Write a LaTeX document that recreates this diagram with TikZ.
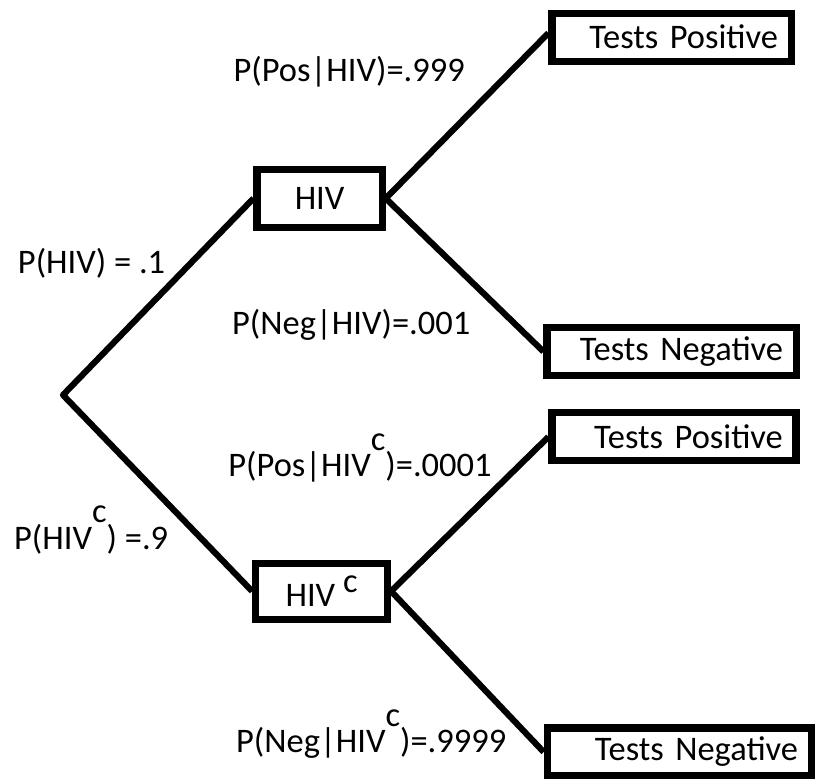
\documentclass[tikz,border=0pt]{standalone}
\usepackage{fontspec}
\setmainfont{Carlito}
\usepackage{tikz}
\usetikzlibrary{
positioning,
calc
}
\newcommand{\hivsup}{HIV\raisebox{1.6ex}{c}}

\begin{document}
\begin{tikzpicture}[
  font=\fontsize{24.5}{29}\selectfont,
  outcome/.style={draw, line width=5pt, inner xsep=0.33cm, minimum height=1.2cm, align=right},
  status/.style={draw, line width=5pt, minimum height=1.45cm},
  branch/.style={line width=4.4pt, line join=round},
  prob/.style={inner sep=0pt}
]
\useasboundingbox (0,0) rectangle (20.425,-19.475);

% Root of the tree
\coordinate (root) at (1.575,-9.875);

% First level
\node[status, minimum width=3.13cm] (hiv) at (7.99,-4.96) {HIV};
\node[status, minimum width=3.3cm, minimum height=1.4cm] (hivc) at (8.04,-14.78) {HIV \raisebox{0.9ex}{c}};

% Second level
\node[outcome, text width=5.32cm] (pos1) at (16.79,-0.93) {Tests Positive};
\node[outcome, text width=5.57cm] (neg1) at (16.79,-8.79) {Tests Negative};
\node[outcome, text width=5.44cm] (pos2) at (16.85,-10.92) {Tests Positive};
\node[outcome, text width=5.94cm] (neg2) at (16.98,-18.8) {Tests Negative};

% Branches
\draw[branch] (hiv.west) -- (root) -- (hivc.west);
\draw[branch] (hiv.east) -- ([yshift=3pt]pos1.west);
\draw[branch] (hiv.east) -- (neg1.west);
\draw[branch] (hivc.east) -- (pos2.west);
\draw[branch] (hivc.east) -- (neg2.west);

% Probabilities
\node[prob] (phiv) at (2.29,-6.58) {P(HIV) = .1};
\node[prob] (phivc) at (2.28,-13.25) {P(\hivsup) =.9};
\node[prob] (ppos1) at (8.73,-1.8) {P(Pos|HIV)=.999};
\node[prob] (pneg1) at (8.78,-8.13) {P(Neg|HIV)=.001};
\node[prob] (ppos2) at (9.0,-11.45) {P(Pos|\hivsup)=.0001};
\node[prob] (pneg2) at (9.28,-18.35) {P(Neg|\hivsup)=.9999};

\end{tikzpicture}
\end{document}
